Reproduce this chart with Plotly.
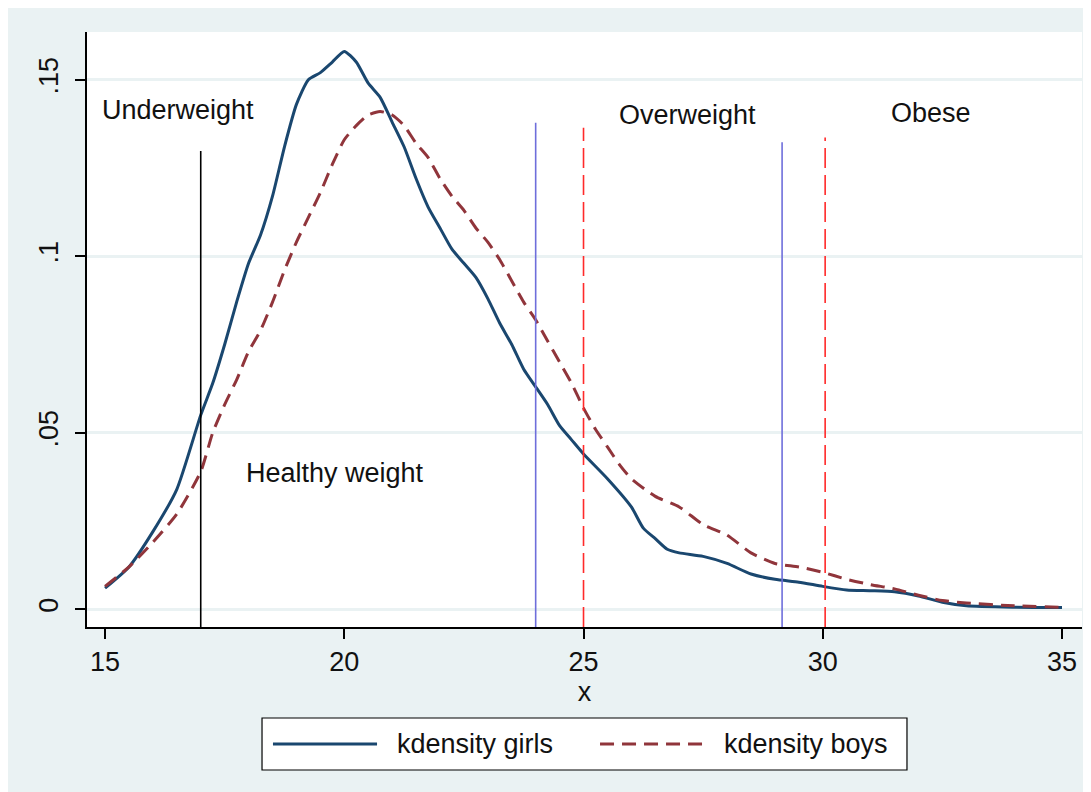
import plotly.graph_objects as go

# ---------------- data ----------------
bmi_girls = [15.0, 15.5, 16.0, 16.5, 17.0, 17.25, 17.5, 17.75, 18.0, 18.25, 18.5, 18.75,
             19.0, 19.25, 19.5, 19.75, 20.0, 20.25, 20.5, 20.75, 21.0, 21.25, 21.5, 21.75,
             22.0, 22.25, 22.5, 22.75, 23.0, 23.25, 23.5, 23.75, 24.0, 24.25, 24.5, 24.75,
             25.0, 25.5, 26.0, 26.25, 26.5, 26.75, 27.0, 27.5, 28.0, 28.5, 29.0, 29.5,
             30.0, 30.5, 31.0, 31.5, 32.0, 32.5, 33.0, 34.0, 35.0]
dens_girls = [0.006, 0.012, 0.022, 0.034, 0.055, 0.064, 0.075, 0.087, 0.098, 0.106, 0.117, 0.131,
              0.143, 0.150, 0.152, 0.155, 0.158, 0.155, 0.149, 0.145, 0.138, 0.131, 0.122, 0.114,
              0.108, 0.102, 0.098, 0.094, 0.088, 0.081, 0.075, 0.068, 0.063, 0.058, 0.052, 0.048,
              0.044, 0.037, 0.029, 0.023, 0.020, 0.017, 0.016, 0.015, 0.013, 0.010, 0.0085, 0.0077,
              0.0065, 0.0055, 0.0053, 0.0050, 0.0038, 0.0020, 0.0010, 0.0006, 0.0005]

bmi_boys = [15.0, 15.5, 16.0, 16.5, 17.0, 17.25, 17.5, 17.75, 18.0, 18.25, 18.5, 18.75,
            19.0, 19.25, 19.5, 19.75, 20.0, 20.25, 20.5, 20.75, 21.0, 21.25, 21.5, 21.75,
            22.0, 22.25, 22.5, 22.75, 23.0, 23.25, 23.5, 23.75, 24.0, 24.25, 24.5, 24.75,
            25.0, 25.25, 25.5, 25.75, 26.0, 26.5, 27.0, 27.5, 28.0, 28.5, 29.0, 29.5,
            30.0, 30.5, 31.0, 31.5, 32.0, 32.5, 33.0, 34.0, 35.0]
dens_boys = [0.0065, 0.012, 0.019, 0.027, 0.039, 0.050, 0.058, 0.065, 0.073, 0.079, 0.087, 0.096,
             0.104, 0.111, 0.118, 0.126, 0.133, 0.137, 0.140, 0.141, 0.140, 0.137, 0.132, 0.128,
             0.122, 0.117, 0.113, 0.108, 0.104, 0.099, 0.093, 0.087, 0.082, 0.076, 0.070, 0.064,
             0.057, 0.051, 0.046, 0.041, 0.037, 0.032, 0.029, 0.024, 0.021, 0.016, 0.013, 0.012,
             0.0105, 0.0085, 0.0070, 0.0058, 0.0040, 0.0025, 0.0018, 0.0010, 0.0006]

# cut-off reference lines: x position, top value, colour, dash
cut_x = [17, 24, 25, 29.15, 30.05]
cut_top = [0.1298, 0.1378, 0.1364, 0.1323, 0.1336]
cut_color = ["#000000", "#6E6EDB", "#FF2A2A", "#6E6EDB", "#FF2A2A"]
cut_dash = ["solid", "solid", "20px,7px", "solid", "20px,7px"]

# category labels
label_text = ["Underweight", "Healthy weight", "Overweight", "Obese"]
label_x = [16.52, 19.8, 27.17, 32.26]
label_y = [0.1414, 0.0386, 0.1400, 0.1405]

x_ticks = [15, 20, 25, 30, 35]
y_ticks = [0, 0.05, 0.1, 0.15]
y_ticktext = ["0", ".05", ".1", ".15"]

series_names = ["kdensity girls", "kdensity boys"]

# ---------------- style ----------------
BG = "#EAF2F3"
NAVY = "#1A476F"
MAROON = "#90353B"
FONT = "Liberation Sans, Arial, sans-serif"
FS = 27

fig = go.Figure()
fig.add_trace(go.Scatter(x=bmi_girls, y=dens_girls, mode="lines", name=series_names[0],
                         line=dict(color=NAVY, width=3, shape="spline", smoothing=0.6),
                         showlegend=False))
fig.add_trace(go.Scatter(x=bmi_boys, y=dens_boys, mode="lines", name=series_names[1],
                         line=dict(color=MAROON, width=3, dash="14px,8px", shape="spline", smoothing=0.6),
                         showlegend=False))

Y0 = -0.0050
shapes = []
for cx, ct, cc, cd in zip(cut_x, cut_top, cut_color, cut_dash):
    shapes.append(dict(type="line", xref="x", yref="y", x0=cx, x1=cx, y0=Y0, y1=ct,
                       line=dict(color=cc, width=1.6, dash=cd), layer="above"))

# legend box (drawn manually to match the long key samples)
shapes.append(dict(type="rect", xref="paper", yref="paper", x0=0.1759, x1=0.8241,
                   y0=-0.2403, y1=-0.1529, fillcolor="white", line=dict(color="black", width=1.2)))
shapes.append(dict(type="line", xref="paper", yref="paper", x0=0.1869, x1=0.2915,
                   y0=-0.1966, y1=-0.1966, line=dict(color=NAVY, width=3)))
shapes.append(dict(type="line", xref="paper", yref="paper", x0=0.5156, x1=0.6191,
                   y0=-0.1966, y1=-0.1966, line=dict(color=MAROON, width=3, dash="14px,8px")))

annotations = []
for t, ax_, ay_ in zip(label_text, label_x, label_y):
    annotations.append(dict(x=ax_, y=ay_, xref="x", yref="y", text=t, showarrow=False,
                            xanchor="center", yanchor="middle",
                            font=dict(family=FONT, size=FS, color="#111111")))
annotations.append(dict(x=0.3095, y=-0.1966, xref="paper", yref="paper", text=series_names[0],
                        showarrow=False, xanchor="left", yanchor="middle",
                        font=dict(family=FONT, size=FS, color="#111111")))
annotations.append(dict(x=0.6382, y=-0.1966, xref="paper", yref="paper", text=series_names[1],
                        showarrow=False, xanchor="left", yanchor="middle",
                        font=dict(family=FONT, size=FS, color="#111111")))

fig.update_layout(
    width=1091, height=792,
    margin=dict(l=79, r=17, t=24, b=173),
    paper_bgcolor=BG, plot_bgcolor="white",
    font=dict(family=FONT, size=FS, color="#111111"),
    shapes=shapes, annotations=annotations,
    showlegend=False,
    xaxis=dict(range=[14.623, 35.418], tickvals=x_ticks, ticks="outside", ticklen=10,
               tickwidth=1.5, tickcolor="black", showline=True, linecolor="black", linewidth=1.5,
               showgrid=False, zeroline=False, title=dict(text="x", standoff=0,
               font=dict(size=FS)), tickfont=dict(size=FS)),
    yaxis=dict(range=[Y0, 0.1635], tickvals=y_ticks, ticktext=y_ticktext, tickangle=-90,
               ticks="outside", ticklen=10, tickwidth=1.5, tickcolor="black",
               showline=True, linecolor="black", linewidth=1.5,
               showgrid=True, gridcolor=BG, gridwidth=3, zeroline=False,
               ticklabelstandoff=6, tickfont=dict(size=FS)),
)

fig.write_html("out.html")
